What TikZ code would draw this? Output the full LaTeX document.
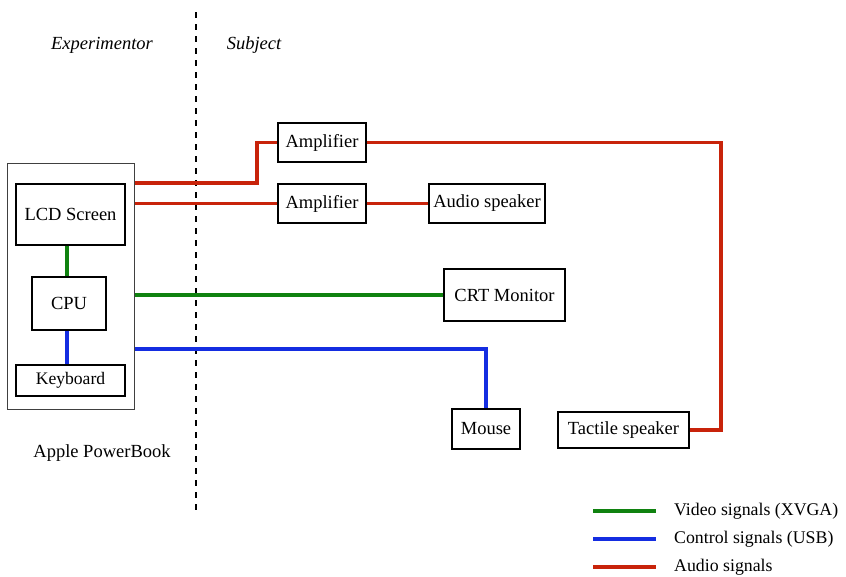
\documentclass[tikz,border=0pt]{standalone}
\usepackage{fontspec}
\setmainfont{Liberation Serif}
\usepackage{tikz}
\usetikzlibrary{positioning,calc}
\definecolor{videogreen}{RGB}{16,130,16}
\definecolor{usbblue}{RGB}{20,45,225}
\definecolor{audiored}{RGB}{200,35,10}
\tikzset{
  box/.style={draw=black, line width=1.4pt, fill=white, align=center, inner sep=0pt, font=\fontsize{18.5}{20}\selectfont},
  smallbox/.style={box, font=\fontsize{17.6}{19}\selectfont},
  case/.style={draw=black!75, line width=1pt},
  lbl/.style={font=\fontsize{18.5}{20}\selectfont, inner sep=0pt},
  side/.style={lbl, font=\fontsize{18.5}{20}\selectfont\itshape},
  key/.style={font=\fontsize{17.8}{19}\selectfont, inner sep=0pt, anchor=west},
  video/.style={draw=videogreen, line width=3.6pt},
  usb/.style={draw=usbblue, line width=3.6pt},
  audio/.style={draw=audiored, line width=3.6pt},
  divider/.style={draw=black, line width=1.3pt, dash pattern=on 6pt off 6pt}
}
\begin{document}
\begin{tikzpicture}[x=1pt, y=-1pt]
  \useasboundingbox (0,0) rectangle (846,576);
  % experimentor / subject split
  \draw[divider] (196,12) -- (196,515);
  \node[side] (exp) at (102,45) {Experimentor};
  \node[side] (subj) at (254,45) {Subject};

  % the laptop
  \node[case, minimum width=127pt, minimum height=246pt] (book) at (70.5,286) {};
  \node[box, minimum width=109pt, minimum height=61pt] (lcd) at (70.5,214.5) {LCD Screen};
  \node[box, minimum width=74pt, minimum height=53pt] (cpu) at (69,303.5) {CPU};
  \node[smallbox, minimum width=109pt, minimum height=31pt] (kbd) at (70.5,380.5) {Keyboard};
  \node[lbl] (pb) at (102,453) {Apple PowerBook};
  \draw[video] (lcd.south -| 67,0) -- (cpu.north -| 67,0);
  \draw[usb] (cpu.south -| 67,0) -- (kbd.north -| 67,0);

  % subject side devices
  \node[box, minimum width=88pt, minimum height=39pt] (amp1) at (322,142.5) {Amplifier};
  \node[box, minimum width=88pt, minimum height=39pt] (amp2) at (322,203.5) {Amplifier};
  \node[box, minimum width=116pt, minimum height=39pt] (spk) at (487,203.5) {Audio speaker};
  \node[box, minimum width=121pt, minimum height=52pt] (crt) at (504.5,295) {CRT Monitor};
  \node[box, minimum width=68pt, minimum height=40pt] (mouse) at (486,429) {Mouse};
  \node[box, minimum width=131pt, minimum height=36pt] (tact) at (623.5,430) {Tactile speaker};

  % audio
  \draw[audio] (book.east |- 0,183) -- (257,183) |- (amp1.west);
  \draw[audio] (book.east |- amp2) -- (amp2.west);
  \draw[audio] (amp2) -- (spk);
  \draw[audio] (amp1.east) -- (721,142.5) |- (tact.east);
  % video
  \draw[video] (book.east |- crt) -- (crt.west);
  % control
  \draw[usb] (book.east |- 0,349) -| (mouse.north);

  % legend
  \coordinate (kv) at (593,511);
  \coordinate (kc) at (593,539);
  \coordinate (ka) at (593,567);
  \draw[video] (kv) -- ++(63,0);
  \draw[usb] (kc) -- ++(63,0);
  \draw[audio] (ka) -- ++(63,0);
  \node[key] (kvt) at (674,511) {Video signals (XVGA)};
  \node[key] (kct) at (674,539) {Control signals (USB)};
  \node[key] (kat) at (674,567) {Audio signals};
\end{tikzpicture}
\end{document}
